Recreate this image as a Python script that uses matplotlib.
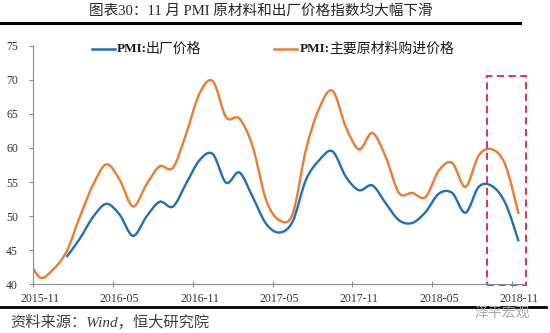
"""
PMI 出厂价格 vs 主要原材料购进价格, monthly, smoothed lines
"""
import numpy as np
import pandas as pd
import matplotlib
matplotlib.use('Agg')
import matplotlib.pyplot as plt
from matplotlib.path import Path
from matplotlib.patches import PathPatch, Rectangle
from matplotlib.lines import Line2D

plt.rcParams['font.family'] = ['Liberation Serif', 'Noto Sans CJK SC']

# months of the input-price series (first month sits just left of the axis)
months = pd.period_range('2015-10', '2018-11', freq='M').strftime('%Y-%m').tolist()

# PMI: 主要原材料购进价格, 2015-10 .. 2018-11
input_price = [44.2, 41.0, 42.2, 44.8, 49.9, 54.6, 57.6, 55.3, 51.4, 54.6,
               57.3, 57.1, 62.1, 68.0, 69.8, 64.5, 64.3, 60.2, 52.4, 49.4,
               50.3, 59.7, 65.8, 68.4, 63.1, 59.8, 62.2, 58.7, 53.4, 53.4,
               52.8, 56.7, 57.8, 54.3, 58.9, 59.8, 57.5, 50.3]

# PMI: 出厂价格, 2016-01 .. 2018-11
output_start = '2016-01'
output_price = [44.0, 46.7, 49.9, 51.8, 50.2, 47.1, 49.9, 52.1, 51.4, 54.8,
                58.2, 59.1, 54.9, 56.4, 52.8, 48.9, 47.6, 49.2, 55.3, 58.2,
                59.5, 55.8, 53.8, 54.5, 51.9, 49.4, 49.0, 50.6, 53.3, 53.4,
                50.5, 54.3, 54.4, 51.9, 46.3]

tick_labels = ['2015-11', '2016-05', '2016-11', '2017-05',
               '2017-11', '2018-05', '2018-11']
y_ticks = [40, 45, 50, 55, 60, 65, 70, 75]

BLUE = '#1f6fbd'
ORANGE = '#ec7c30'
W, H = 550, 333


def smooth_path(x, y):
    """Catmull-Rom style bezier through the points (like Excel's smoothed line)."""
    pts = np.column_stack([x, y]).astype(float)
    n = len(pts)
    verts = [pts[0]]
    codes = [Path.MOVETO]
    for i in range(n - 1):
        p0 = pts[max(i - 1, 0)]
        p1 = pts[i]
        p2 = pts[i + 1]
        p3 = pts[min(i + 2, n - 1)]
        verts += [p1 + (p2 - p0) / 6, p2 - (p3 - p1) / 6, p2]
        codes += [Path.CURVE4] * 3
    return Path(verts, codes)


def fx(px):
    return px / W


def fy(py):
    return 1 - py / H


fig = plt.figure(figsize=(5.5, 3.33), dpi=100)
ax = fig.add_axes([fx(33.3), fy(284.3), fx(525.3) - fx(33.3), fy(45.7) - fy(284.3)])

x_all = np.arange(len(months)) - 1            # 2015-11 -> 0
i0 = months.index(output_start)
x_out = x_all[i0:i0 + len(output_price)]

ax.add_patch(PathPatch(smooth_path(x_all, input_price), fill=False,
                       edgecolor=ORANGE, lw=1.7, joinstyle='round'))
ax.add_patch(PathPatch(smooth_path(x_out, output_price), fill=False,
                       edgecolor=BLUE, lw=1.7, joinstyle='round'))

ax.set_xlim(-0.5, 36.5)
ax.set_ylim(40, 75)

# ticks sit between months, labels centred on the month
label_pos = [months.index(t) - 1 for t in tick_labels]
ax.set_xticks([p - 0.5 for p in label_pos])
ax.set_xticklabels([])
ax.set_xticks(label_pos, minor=True)
ax.set_xticklabels(tick_labels, minor=True)
ax.tick_params(axis='x', which='major', direction='inout', length=4, width=0.8, color='#8c8c8c')
ax.tick_params(axis='x', which='minor', length=0, pad=6, labelsize=8.5, labelcolor='#333333')
ax.set_yticks(y_ticks)
ax.tick_params(axis='y', direction='out', length=3, width=0.8, color='#8c8c8c',
               pad=8, labelsize=8.5, labelcolor='#333333')

for side in ['top', 'right']:
    ax.spines[side].set_visible(False)
for side in ['left', 'bottom']:
    ax.spines[side].set_color('#8c8c8c')
    ax.spines[side].set_linewidth(0.8)

# highlight box over the last three months
ax.add_patch(Rectangle((33.6, 39.9), 2.95, 30.7, fill=False, edgecolor='#e0204a',
                       lw=1.3, linestyle=(0, (4, 2.5)), clip_on=False))

# legend drawn by hand
for (x0, x1, tx, cx, color, name) in [(91.7, 115, 117, 146, BLUE, '出厂价格'),
                                      (274, 297, 300, 329, ORANGE, '主要原材料购进价格')]:
    fig.add_artist(Line2D([fx(x0), fx(x1)], [fy(49.3)] * 2, color=color, lw=1.8,
                          transform=fig.transFigure))
    fig.text(fx(tx), fy(49.3), 'PMI:', fontsize=9.5, fontweight='bold',
             va='center', ha='left', color='#1a1a1a')
    fig.text(fx(cx), fy(49.3), name, fontsize=10, va='center', ha='left', color='#1a1a1a')

# title and rules
fig.text(fx(261), fy(10.5), '图表30：11 月 PMI 原材料和出厂价格指数均大幅下滑',
         fontsize=10.5, ha='center', va='center', color='#262626')
fig.add_artist(Line2D([0, fx(520)], [fy(22.7)] * 2, color='black', lw=2.2,
                      transform=fig.transFigure))
fig.add_artist(Line2D([0, fx(546)], [fy(307)] * 2, color='black', lw=2.0,
                      transform=fig.transFigure))

fig.text(fx(10), fy(322), '资料来源：Wind，恒大研究院', fontsize=11,
         style='italic', ha='left', va='center', color='#404040')
fig.text(fx(502), fy(313), '泽平宏观', fontsize=10, ha='center', va='center',
         color='#a8a8a8')

fig.savefig('out.png', dpi=100)
